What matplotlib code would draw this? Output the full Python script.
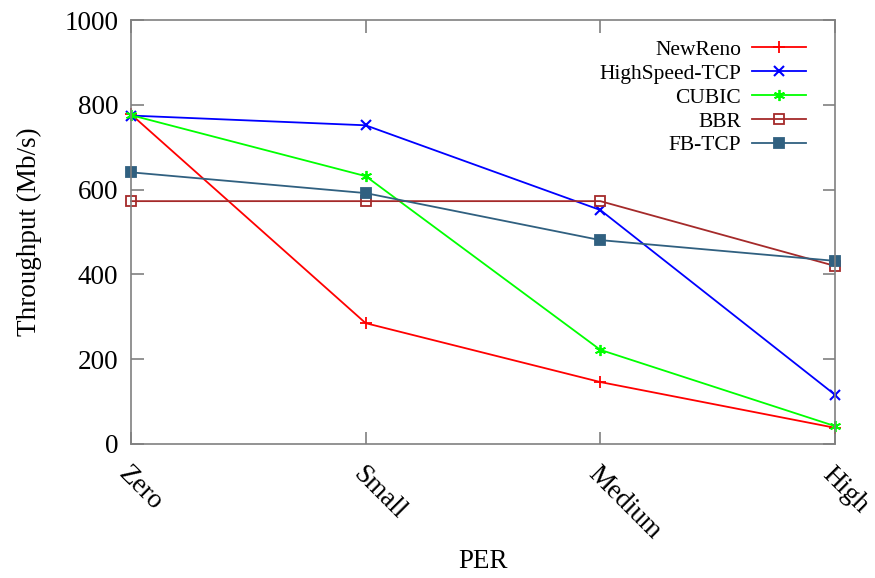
import matplotlib.pyplot as plt

plt.rcParams['font.family'] = ['Liberation Serif', 'DejaVu Serif']

# data
per_levels = ['Zero', 'Small', 'Medium', 'High']
newreno = [778, 285, 146, 38]
highspeed = [775, 752, 552, 116]
cubic = [776, 632, 222, 42]
bbr = [573, 573, 573, 420]
fbtcp = [641, 592, 481, 432]

x = list(range(len(per_levels)))

fig = plt.figure(figsize=(8.75, 5.78), dpi=100)
ax = fig.add_axes([0.1497, 0.232, 0.8046, 0.733])

asterisk = (6, 2, 0)
ax.plot(x, newreno, color='#ff0000', marker='+', ms=8, mew=1.3, lw=1.3, label='NewReno', clip_on=False)
ax.plot(x, highspeed, color='#0000ff', marker='x', ms=7, mew=1.5, lw=1.3, label='HighSpeed-TCP', clip_on=False)
ax.plot(x, cubic, color='#00ff00', marker=asterisk, ms=8, mew=1.3, lw=1.3, label='CUBIC', clip_on=False)
ax.plot(x, bbr, color='#a52a2a', marker='s', ms=6.5, mew=1.3, lw=1.3, mfc='none', label='BBR', clip_on=False)
ax.plot(x, fbtcp, color='#306080', marker='s', ms=7, mew=1.3, lw=1.3, label='FB-TCP', clip_on=False)

ax.set_xlim(0, 3)
ax.set_ylim(0, 1000)
ax.set_xticks(x)
ax.set_xticklabels(per_levels, rotation=-45, ha='left', va='top', rotation_mode='anchor', fontsize=19.5)
ax.set_yticks(range(0, 1001, 200))
ax.tick_params(axis='y', labelsize=19.5, pad=9)
ax.tick_params(axis='x', pad=13)
ax.tick_params(direction='in', length=9, width=1.2, color='#808080', top=True, right=True)
for s in ax.spines.values():
    s.set_color('#808080')
    s.set_linewidth(1.2)

ax.set_xlabel('PER', fontsize=19.5, va='center')
ax.xaxis.set_label_coords(0.5, -0.278)
ax.set_ylabel('Throughput (Mb/s)', fontsize=19.5, labelpad=16)

ax.legend(loc='upper right', bbox_to_anchor=(0.986, 1.0), frameon=False, markerfirst=False,
          fontsize=15.5, handlelength=2.5, labelspacing=0.18, borderaxespad=0.5,
          handletextpad=0.5)

fig.savefig('out.png', dpi=100)
